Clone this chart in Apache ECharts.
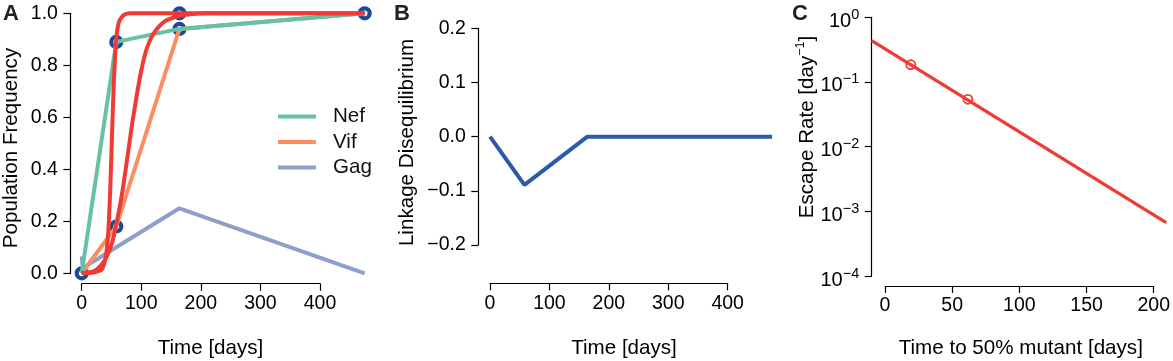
<!DOCTYPE html>
<html>
<head>
<meta charset="utf-8">
<script src="https://cdn.jsdelivr.net/npm/echarts@6/dist/echarts.min.js"></script>
<style>
  html, body { margin: 0; padding: 0; background: #fff; }
  #chart { width: 1173px; height: 361px; }
</style>
</head>
<body>
<div id="chart"></div>
<script>
// panel A: allele frequencies
var dayA = [0, 58, 164, 475];
var nef = [0, 0.89, 0.94, 1.0];
var vif = [0, 0.18, 0.94, 1.0];
var gagDays = [0, 2, 58, 164, 475];
var gag = [0.065, 0.02, 0.10, 0.25, 0.0];
var ringDays = [0, 58, 58, 164, 164, 475];
var ringVals = [0, 0.89, 0.18, 1.0, 0.94, 1.0];
// fitted curves
var fit1Days = [0, 10, 20, 30, 35, 38, 40, 42, 44, 46, 48, 50, 52, 54, 56, 58, 60, 63, 67, 72, 80, 475];
var fit1Vals = [0, 0.001, 0.003, 0.01, 0.02, 0.04, 0.06, 0.09, 0.14, 0.22, 0.33, 0.47, 0.61, 0.74, 0.83, 0.9, 0.94, 0.97, 0.985, 0.995, 1, 1];
var fit2Days = [0, 10, 20, 30, 40, 45, 50, 55, 60, 65, 70, 75, 80, 85, 90, 95, 100, 105, 110, 120, 130, 140, 150, 165, 185, 210, 475];
var fit2Vals = [0, 0.003, 0.008, 0.025, 0.055, 0.08, 0.11, 0.155, 0.21, 0.27, 0.34, 0.42, 0.5, 0.58, 0.65, 0.72, 0.78, 0.83, 0.87, 0.92, 0.95, 0.97, 0.98, 0.99, 0.997, 1, 1];

// panel B: linkage disequilibrium
var ldDays = [0, 58, 164, 475];
var ld = [0, -0.089, 0, 0];

// panel C: escape rate vs time to 50% mutant
var rateDays = [-9.8, 207];
var rate = [0.435, 0.00067];
var ptDays = [19, 61];
var ptRate = [0.185, 0.054];

var FONT = '"Liberation Sans", Arial, Helvetica, sans-serif';
var MINUS = '\u2212';
var TITLE = '20.6px ' + FONT;

function zip(a, b) {
  return a.map(function (v, i) { return [v, b[i]]; });
}

var lineSt = { color: '#000', width: 1.2 };

function shownAxis(extra) {
  var ax = {
    type: 'value',
    axisLine: { show: true, onZero: false, lineStyle: lineSt },
    axisTick: { show: true, length: 7, inside: false, lineStyle: lineSt },
    axisLabel: { color: '#000', fontSize: 19.5, fontFamily: FONT, margin: 10 },
    splitLine: { show: false }
  };
  for (var k in extra) ax[k] = extra[k];
  return ax;
}
function hiddenAxis(extra) {
  var ax = { type: 'value', show: false, splitLine: { show: false } };
  for (var k in extra) ax[k] = extra[k];
  return ax;
}

var dom = document.getElementById('chart');
var myChart = echarts.init(dom);

var option = {
  backgroundColor: '#fff',
  animation: false,
  textStyle: { fontFamily: FONT },
  grid: [
    { left: 70.4, top: 13.3, width: 305.6, height: 260 },   // A data
    { left: 81.7, top: 13.3, width: 238.3, height: 270.4 },  // A x axis
    { left: 478.3, top: 28.3, width: 305.1, height: 216.7 }, // B data
    { left: 490, top: 28.3, width: 237.7, height: 255 },     // B x axis
    { left: 871.7, top: 17.3, width: 298.6, height: 258.7 }, // C data
    { left: 885, top: 17.3, width: 271.7, height: 268.7 }    // C x axis
  ],
  xAxis: [
    hiddenAxis({ gridIndex: 0, min: -19, max: 494 }),
    shownAxis({ gridIndex: 1, min: 0, max: 400, interval: 100, position: 'bottom' }),
    hiddenAxis({ gridIndex: 2, min: -19.7, max: 494 }),
    shownAxis({ gridIndex: 3, min: 0, max: 400, interval: 100, position: 'bottom' }),
    hiddenAxis({ gridIndex: 4, min: -9.8, max: 210 }),
    shownAxis({ gridIndex: 5, min: 0, max: 200, interval: 50, position: 'bottom' })
  ],
  yAxis: [
    shownAxis({ gridIndex: 0, min: 0, max: 1, interval: 0.2,
      axisLabel: { color: '#000', fontSize: 19.5, fontFamily: FONT, margin: 12.5,
        formatter: function (v) { return v.toFixed(1); } } }),
    hiddenAxis({ gridIndex: 1, min: 0, max: 1 }),
    shownAxis({ gridIndex: 2, min: -0.2, max: 0.2, interval: 0.1,
      axisLabel: { color: '#000', fontSize: 19.5, fontFamily: FONT, margin: 12.5,
        formatter: function (v) { return v.toFixed(1).replace('-', MINUS); } } }),
    hiddenAxis({ gridIndex: 3, min: 0, max: 1 }),
    shownAxis({ gridIndex: 4, type: 'log', logBase: 10, min: 0.0001, max: 1,
      axisLabel: { color: '#000', fontFamily: FONT, margin: 12.5,
        formatter: function (v) {
          var e = Math.round(Math.log(v) / Math.LN10);
          return '{b|10}{s|' + String(e).replace('-', MINUS) + '}';
        },
        rich: {
          b: { fontSize: 20, fontFamily: FONT, color: '#000', lineHeight: 28, padding: [5, 0, 0, 0], verticalAlign: 'bottom' },
          s: { fontSize: 14.5, fontFamily: FONT, color: '#000', lineHeight: 14, padding: [4, 0, 0, 0], verticalAlign: 'top' }
        } } }),
    hiddenAxis({ gridIndex: 5, min: 0, max: 1 })
  ],
  legend: {
    data: ['Nef', 'Vif', 'Gag'],
    orient: 'vertical',
    left: 278,
    top: 106,
    padding: 0,
    icon: 'rect',
    itemWidth: 38,
    itemHeight: 4,
    itemGap: 4.5,
    textStyle: { fontSize: 20.6, fontFamily: FONT, color: '#111', lineHeight: 20, padding: [0, 0, 0, 12] }
  },
  graphic: [
    { type: 'text', x: 3, y: 3, style: { text: 'A', font: 'bold 22px ' + FONT, fill: '#222' } },
    { type: 'text', x: 394, y: 3, style: { text: 'B', font: 'bold 22px ' + FONT, fill: '#222' } },
    { type: 'text', x: 792, y: 3, style: { text: 'C', font: 'bold 22px ' + FONT, fill: '#222' } },
    { type: 'text', x: 210.5, y: 348.5, style: { text: 'Time [days]', font: TITLE, fill: '#000', align: 'center', verticalAlign: 'middle' } },
    { type: 'text', x: 624, y: 348.5, style: { text: 'Time [days]', font: TITLE, fill: '#000', align: 'center', verticalAlign: 'middle' } },
    { type: 'text', x: 1020.8, y: 348.5, style: { text: 'Time to 50% mutant [days]', font: TITLE, fill: '#000', align: 'center', verticalAlign: 'middle' } },
    { type: 'text', x: 11, y: 148, rotation: Math.PI / 2, style: { text: 'Population Frequency', font: TITLE, fill: '#000', align: 'center', verticalAlign: 'middle' } },
    { type: 'text', x: 407, y: 142.5, rotation: Math.PI / 2, style: { text: 'Linkage Disequilibrium', font: TITLE, fill: '#000', align: 'center', verticalAlign: 'middle' } },
    { type: 'text', x: 805, y: 127, rotation: Math.PI / 2, style: {
      text: '{b|Escape Rate [day}{s|' + MINUS + '1}{b|]}', align: 'center', verticalAlign: 'middle',
      rich: {
        b: { fontSize: 20.6, fontFamily: FONT, fill: '#000', lineHeight: 26, verticalAlign: 'bottom' },
        s: { fontSize: 12.5, fontFamily: FONT, fill: '#000', lineHeight: 12, padding: [2, 0, 0, 0], verticalAlign: 'top' }
      } } }
  ],
  series: [
    { name: 'Gag', type: 'line', xAxisIndex: 0, yAxisIndex: 0, data: zip(gagDays, gag),
      color: '#8da0cb', symbol: 'none', clip: false, lineStyle: { width: 4, color: '#8da0cb' } },
    { name: 'Vif', type: 'line', xAxisIndex: 0, yAxisIndex: 0, data: zip(dayA, vif),
      color: '#fc8d62', symbol: 'none', clip: false, lineStyle: { width: 4, color: '#fc8d62' } },
    { name: 'Nef', type: 'line', xAxisIndex: 0, yAxisIndex: 0, data: zip(dayA, nef),
      color: '#66c2a5', symbol: 'none', clip: false, lineStyle: { width: 4, color: '#66c2a5' } },
    { name: 'fit1', type: 'line', xAxisIndex: 0, yAxisIndex: 0, data: zip(fit1Days, fit1Vals),
      smooth: 0.3, symbol: 'none', clip: false, lineStyle: { width: 4, color: '#ef3b33' } },
    { name: 'fit2', type: 'line', xAxisIndex: 0, yAxisIndex: 0, data: zip(fit2Days, fit2Vals),
      smooth: 0.3, symbol: 'none', clip: false, lineStyle: { width: 4, color: '#ef3b33' } },
    { name: 'obs', type: 'scatter', xAxisIndex: 0, yAxisIndex: 0, data: zip(ringDays, ringVals),
      symbol: 'circle', symbolSize: 10, clip: false,
      itemStyle: { color: 'rgba(0,0,0,0)', borderColor: '#1a4a9e', borderWidth: 4.2, opacity: 1 } },

    { name: 'LD', type: 'line', xAxisIndex: 2, yAxisIndex: 2, data: zip(ldDays, ld),
      symbol: 'none', clip: false, lineStyle: { width: 4, color: '#2a5aa8' } },

    { name: 'rate', type: 'line', xAxisIndex: 4, yAxisIndex: 4, data: zip(rateDays, rate),
      symbol: 'none', clip: false, lineStyle: { width: 3.3, color: '#ef3b33' } },
    { name: 'ratePts', type: 'scatter', xAxisIndex: 4, yAxisIndex: 4, data: zip(ptDays, ptRate),
      symbol: 'circle', symbolSize: 9, clip: false,
      itemStyle: { color: 'rgba(0,0,0,0)', borderColor: '#ef3b33', borderWidth: 1.8, opacity: 1 } }
  ]
};

if (option && typeof option === 'object') {
  myChart.setOption(option, true);
}
</script>
</body>
</html>
